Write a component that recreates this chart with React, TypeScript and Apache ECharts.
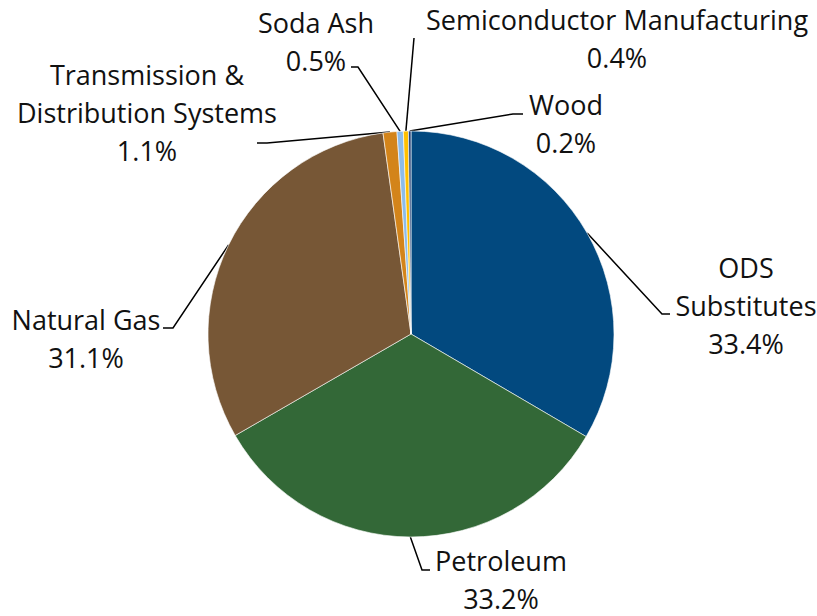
import React, { useEffect, useRef } from 'react';
import * as echarts from 'echarts';

// ---- data ----
const categories = [
  'ODS Substitutes',
  'Petroleum',
  'Natural Gas',
  'Transmission & Distribution Systems',
  'Soda Ash',
  'Semiconductor Manufacturing',
  'Wood',
];
const labelTexts = [
  'ODS\nSubstitutes',
  'Petroleum',
  'Natural Gas',
  'Transmission &\nDistribution Systems',
  'Soda Ash',
  'Semiconductor Manufacturing',
  'Wood',
];
const shares = [33.4, 33.2, 31.1, 1.1, 0.5, 0.4, 0.2];

// ---- styles ----
const colors = ['#02497f', '#336837', '#775736', '#d3841a', '#8cbcea', '#ffc000', '#264478'];

// label layout: label centre [x, y], line end [x, y], elbow [x, y]
const labelPlacement: number[][] = [
  [746, 305, 670, 314, 662, 314],
  [501, 579, 430, 570, 422, 570],
  [86, 338, 163, 328, 173, 328],
  [147, 112, 257, 143, 267, 143],
  [316, 41, 351, 67, 358, 67],
  [617, 38, 414, 38, 414, 38],
  [566, 123, 523, 114, 513, 114],
];

const CENTER = [411, 334];
const RADIUS = 203;

export default function App() {
  const ref = useRef<HTMLDivElement>(null);

  useEffect(() => {
    if (!ref.current) return;
    const chart = echarts.init(ref.current, undefined, { renderer: 'svg' });
    const total = shares.reduce((a, b) => a + b, 0);

    const edgePoint = (idx: number) => {
      let cum = 0;
      for (let i = 0; i < idx; i++) cum += shares[i];
      const a = ((cum + shares[idx] / 2) / total) * Math.PI * 2;
      return [CENTER[0] + RADIUS * Math.sin(a), CENTER[1] - RADIUS * Math.cos(a)];
    };

    chart.setOption({
      animation: false,
      backgroundColor: '#ffffff',
      series: [
        {
          type: 'pie',
          center: CENTER,
          radius: RADIUS,
          startAngle: 90,
          clockwise: true,
          silent: true,
          avoidLabelOverlap: false,
          data: categories.map((name, i) => ({
            name,
            value: shares[i],
            itemStyle: { color: colors[i] },
          })),
          itemStyle: { borderColor: '#ffffff', borderWidth: 0.6 },
          emphasis: { disabled: true },
          label: {
            show: true,
            position: 'outside',
            fontFamily: 'Open Sans',
            fontSize: 27,
            lineHeight: 38,
            color: '#111111',
            align: 'center',
            formatter: (p: any) =>
              labelTexts[p.dataIndex] + '\n' + shares[p.dataIndex].toFixed(1) + '%',
          },
          labelLine: {
            show: true,
            length: 10,
            length2: 10,
            smooth: false,
            lineStyle: { color: '#000000', width: 1.5 },
          },
          labelLayout: (params: any) => {
            const pl = labelPlacement[params.dataIndex];
            const start =
              params.labelLinePoints && params.labelLinePoints[0]
                ? params.labelLinePoints[0]
                : edgePoint(params.dataIndex);
            return {
              x: pl[0],
              y: pl[1],
              align: 'center',
              verticalAlign: 'middle',
              labelLinePoints: [
                [start[0], start[1]],
                [pl[4], pl[5]],
                [pl[2], pl[3]],
              ],
            };
          },
        },
      ],
    });

    return () => {
      chart.dispose();
    };
  }, []);

  return (
    <div
      ref={ref}
      style={{ position: 'absolute', left: 0, top: 0, width: 817, height: 616, background: '#fff' }}
    />
  );
}
